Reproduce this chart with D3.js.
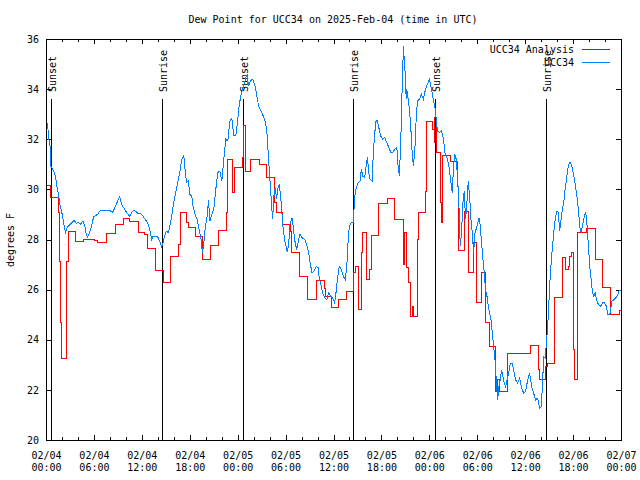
<!DOCTYPE html>
<html><head><meta charset="utf-8">
<script src="https://cdn.jsdelivr.net/npm/d3@7"></script>
<style>
body{margin:0;background:#fff}
svg{display:block}
text{font-family:"DejaVu Sans Mono",monospace;font-size:10px;fill:#000}
</style>
</head><body>
<svg id="chart" width="640" height="480"></svg>
<script>
// ---- data (hours since 2025-02-04 00:00 UTC, dew point in F) ----
const startTime = "2025-02-04T00:00:00Z";
const endTime = "2025-02-07T00:00:00Z";
const titleText = "Dew Point for UCC34 on 2025-Feb-04 (time in UTC)";
const yLabel = "degrees F";
const seriesNames = ["UCC34 Analysis", "UCC34"];
const seriesColors = ["#ff0000", "#0080ff"];
const yTicks = [20, 22, 24, 26, 28, 30, 32, 34, 36];
const eventTimes = ["2025-02-04T00:36:00Z","2025-02-04T14:32:00Z","2025-02-05T00:41:00Z","2025-02-05T14:29:00Z","2025-02-06T00:46:00Z","2025-02-06T14:34:00Z"];
const eventLabels = ["Sunset","Sunrise","Sunset","Sunrise","Sunset","Sunrise"];

const analysis = [[0,30.17],[0.56,29.67],[1.61,29.07],[1.69,27.13],[1.82,24.67],[1.98,23.27],[2.51,24.53],[2.61,27.13],[2.8,28.33],[3.64,27.93],[4.64,28.0],[6.08,27.96],[6.4,27.89],[7.59,28.24],[8.69,28.6],[9.68,28.84],[10.47,28.73],[11.6,28.27],[12.29,28.2],[12.67,27.63],[13.67,26.76],[14.68,26.27],[15.62,27.33],[16.53,27.8],[16.83,29.09],[17.54,28.69],[17.79,28.47],[18.69,28.13],[19.57,27.2],[20.63,27.76],[21.64,28.37],[22.58,29.07],[22.77,31.2],[23.31,29.87],[23.58,30.87],[24.56,31.27],[24.75,32.53],[24.94,30.73],[25.59,31.2],[26.69,31.0],[27.66,30.47],[28.66,29.47],[28.88,29.07],[29.63,28.6],[30.61,28.33],[30.79,27.5],[31.8,26.51],[32.74,25.6],[33.81,26.37],[34.85,26.03],[35.06,25.73],[35.81,25.27],[36.63,25.6],[37.63,25.91],[38.48,26.67],[38.74,26.93],[39.07,25.2],[39.51,27.47],[39.66,28.29],[40.08,26.4],[40.52,26.8],[40.7,28.16],[41.65,29.44],[42.71,29.63],[43.63,28.8],[44.76,27.0],[44.93,28.27],[45.13,26.9],[45.38,26.27],[45.69,24.93],[45.85,25.33],[46.01,24.93],[46.51,28.0],[46.69,29.07],[47.52,29.93],[47.69,32.69],[48.44,32.4],[48.61,31.87],[48.7,32.87],[48.86,31.47],[49.45,29.47],[49.55,28.69],[49.67,31.36],[50.61,31.13],[51.49,30.13],[51.62,28.73],[51.71,27.57],[52.46,29.13],[52.96,26.67],[53.54,27.87],[53.96,25.47],[54.57,26.67],[55.0,24.67],[55.57,23.73],[56.26,21.93],[56.57,22.4],[56.76,21.93],[57.76,23.44],[59.77,23.47],[60.61,23.76],[61.65,22.8],[61.81,22.43],[62.49,22.93],[62.82,23.07],[63.72,25.67],[64.66,27.28],[64.99,26.8],[65.42,26.93],[65.6,27.33],[65.79,27.47],[66.11,23.6],[66.23,22.4],[66.58,28.29],[67.71,28.43],[68.77,27.2],[69.68,26.07],[70.68,24.99],[71.78,25.17],[72.0,25.17]];

const observed = [[0.03,32.47],[0.19,32.64],[0.35,32.0],[0.53,31.68],[0.6,30.93],[0.94,30.73],[1.19,30.53],[1.35,30.13],[1.57,29.8],[1.78,29.33],[1.98,29.08],[2.2,28.68],[2.45,28.28],[2.7,28.51],[3.04,28.6],[3.29,28.69],[3.54,28.77],[3.79,28.64],[4.04,28.69],[4.29,28.6],[4.62,28.73],[4.87,28.53],[5.04,28.2],[5.21,28.1],[5.46,28.29],[5.71,28.53],[5.96,28.91],[6.21,28.96],[6.46,29.0],[6.8,29.17],[7.21,29.17],[7.84,29.17],[8.38,29.09],[8.68,29.33],[8.97,29.53],[9.22,29.71],[9.47,29.4],[9.72,29.27],[9.97,29.13],[10.22,29.04],[10.47,28.93],[10.73,29.07],[10.98,29.17],[11.23,29.13],[11.48,29.04],[11.82,29.04],[12.14,28.93],[12.48,28.77],[12.73,28.67],[12.98,28.4],[13.23,28.0],[13.4,28.13],[13.74,28.1],[13.99,28.1],[14.24,27.93],[14.49,27.71],[14.65,27.84],[14.83,28.13],[15.08,28.33],[15.33,28.27],[15.49,28.53],[15.74,28.93],[15.99,29.47],[16.24,29.87],[16.49,30.27],[16.75,30.67],[17.0,31.2],[17.25,31.36],[17.41,30.8],[17.59,30.27],[17.84,30.33],[18.0,29.8],[18.25,29.73],[18.41,29.33],[18.67,29.0],[18.92,28.8],[19.17,28.4],[19.42,28.0],[19.59,27.47],[19.76,27.87],[19.92,28.4],[20.17,28.93],[20.35,29.57],[20.51,28.73],[20.76,29.0],[21.01,29.2],[21.26,30.0],[21.51,30.67],[21.76,30.73],[22.01,30.33],[22.26,31.2],[22.51,32.0],[22.76,31.93],[23.02,32.73],[23.27,32.85],[23.52,32.13],[23.77,32.13],[24.02,32.8],[24.18,33.33],[24.36,33.67],[24.61,34.0],[24.86,34.27],[25.03,34.47],[25.19,34.56],[25.36,34.13],[25.61,34.33],[25.87,34.4],[26.12,34.2],[26.37,33.8],[26.62,33.33],[26.94,33.13],[27.28,32.87],[27.53,32.6],[27.7,32.13],[27.87,31.2],[28.04,30.4],[28.2,29.6],[28.37,28.8],[28.54,29.73],[28.7,30.07],[28.88,29.6],[29.0,30.0],[29.2,30.2],[29.38,29.73],[29.54,29.07],[29.7,28.4],[29.95,27.87],[30.2,27.53],[30.38,27.73],[30.54,28.6],[30.79,28.87],[30.96,28.53],[31.13,28.0],[31.38,27.6],[31.64,28.0],[31.8,28.2],[32.05,28.07],[32.39,28.0],[32.64,27.8],[32.89,27.47],[33.05,27.13],[33.3,26.67],[33.55,26.73],[33.8,26.91],[34.06,26.89],[34.22,26.47],[34.47,26.13],[34.65,25.87],[34.9,25.67],[35.15,25.6],[35.4,25.87],[35.65,25.73],[35.9,25.67],[36.15,25.47],[36.31,25.87],[36.48,26.4],[36.73,26.93],[36.98,26.8],[37.23,26.53],[37.48,26.4],[37.66,26.93],[37.82,27.87],[37.98,28.53],[38.23,28.67],[38.48,28.67],[38.66,29.73],[38.82,30.0],[39.07,30.27],[39.32,30.33],[39.49,30.8],[39.66,30.53],[39.91,30.47],[40.08,30.93],[40.24,31.27],[40.42,30.67],[40.58,30.4],[40.83,30.33],[40.99,31.47],[41.17,32.27],[41.33,32.73],[41.5,32.73],[41.67,32.47],[41.92,32.13],[42.17,32.0],[42.42,32.07],[42.67,31.87],[42.93,31.67],[43.18,31.47],[43.43,31.47],[43.68,31.6],[43.93,31.67],[44.09,30.93],[44.25,30.53],[44.43,32.0],[44.59,34.0],[44.76,35.73],[44.85,35.2],[44.93,34.8],[45.01,34.53],[45.1,33.6],[45.18,34.0],[45.35,33.6],[45.51,33.2],[45.69,32.4],[45.85,31.47],[46.01,30.93],[46.19,31.6],[46.35,32.8],[46.51,33.53],[46.76,33.6],[47.01,33.8],[47.26,33.6],[47.52,34.0],[47.77,34.2],[48.02,34.4],[48.27,34.0],[48.44,33.67],[48.7,33.27],[48.86,32.8],[49.02,32.33],[49.27,32.27],[49.52,32.33],[49.77,32.0],[49.95,31.47],[50.2,31.27],[50.45,30.93],[50.7,30.27],[50.87,29.87],[51.03,30.93],[51.2,31.4],[51.37,31.2],[51.53,30.53],[51.71,29.33],[51.87,27.73],[52.03,28.27],[52.21,29.47],[52.37,29.93],[52.53,28.8],[52.71,29.47],[52.87,30.33],[53.04,29.73],[53.21,28.8],[53.38,28.27],[53.54,27.47],[53.72,28.27],[53.97,28.53],[54.22,28.87],[54.38,28.53],[54.54,27.87],[54.72,27.2],[54.88,26.67],[55.04,26.0],[55.22,25.73],[55.38,25.33],[55.54,25.07],[55.72,24.8],[55.88,24.27],[56.05,23.73],[56.22,23.2],[56.38,22.4],[56.55,21.6],[56.72,22.13],[56.89,22.4],[57.05,22.8],[57.22,22.53],[57.39,22.27],[57.55,22.13],[57.73,22.4],[57.89,22.6],[58.14,23.07],[58.39,23.07],[58.56,22.8],[58.81,22.4],[59.06,22.27],[59.31,22.47],[59.56,22.07],[59.81,21.87],[60.06,21.93],[60.31,22.4],[60.56,22.67],[60.81,22.13],[61.06,21.87],[61.31,21.6],[61.56,21.67],[61.82,21.27],[61.99,21.33],[62.16,22.13],[62.32,23.33],[62.5,23.27],[62.66,23.87],[62.82,24.53],[62.99,25.6],[63.16,26.67],[63.32,27.33],[63.5,28.0],[63.66,28.53],[63.82,28.93],[64.0,29.13],[64.16,29.07],[64.32,28.33],[64.5,28.8],[64.66,29.2],[64.83,29.47],[65.0,30.0],[65.17,30.4],[65.33,30.8],[65.5,31.04],[65.67,31.07],[65.83,30.93],[66.01,30.67],[66.17,30.4],[66.42,29.87],[66.67,29.2],[66.83,28.53],[67.01,28.27],[67.26,28.67],[67.42,28.93],[67.59,29.09],[67.76,28.53],[67.92,27.73],[68.09,26.93],[68.26,26.4],[68.43,25.87],[68.59,25.73],[68.77,25.87],[68.93,25.6],[69.18,25.4],[69.43,25.33],[69.68,25.47],[69.93,25.47],[70.18,25.33],[70.35,25.0],[70.6,25.0],[70.85,25.53],[71.1,25.6],[71.35,25.67],[71.6,25.8],[71.78,25.97],[72.0,25.97]];

// ---- drawing ----
const svg = d3.select("#chart");
const W = 640, H = 480;
const L = 46, R = 621, T = 39, B = 440;
const t0 = new Date(startTime), t1 = new Date(endTime);
const toDate = h => new Date(t0.getTime() + h * 3600e3);

const x = d3.scaleUtc().domain([t0, t1]).range([L, R]);
const y = d3.scaleLinear().domain([20, 36]).range([B, T]);

svg.append("rect").attr("width", W).attr("height", H).attr("fill", "#fff");

// event lines (sunset / sunrise)
const evG = svg.append("g");
eventTimes.forEach((t, i) => {
  const xe = Math.round(x(new Date(t))) + 0.5;
  evG.append("line").attr("x1", xe).attr("x2", xe).attr("y1", 99).attr("y2", B)
    .attr("stroke", "#000").attr("stroke-width", 1).attr("shape-rendering", "crispEdges");
  evG.append("text").attr("transform", `translate(${xe + 4.5},92) rotate(-90)`)
    .attr("text-anchor", "start").text(eventLabels[i]);
});

// axes
const majorTicks = d3.utcHour.every(6).range(t0, new Date(+t1 + 1));
const allTicks = d3.utcHour.every(2).range(t0, new Date(+t1 + 1));
const minorTicks = allTicks.filter(d => d.getUTCHours() % 6 !== 0);
const fmtDay = d3.utcFormat("%m/%d"), fmtHour = d3.utcFormat("%H:%M");

function clean(g) { g.select(".domain").remove(); g.selectAll("line").attr("shape-rendering", "crispEdges"); }

const xb = svg.append("g").attr("transform", `translate(0,${B})`)
  .call(d3.axisBottom(x).tickValues(majorTicks).tickSizeInner(-5).tickSizeOuter(0).tickFormat(fmtDay))
  .call(clean);
xb.selectAll(".tick text").each(function(d) {
  const t = d3.select(this);
  t.text(null).attr("y", null).attr("dy", null).attr("fill", "#000")
    .style("font-family", '"DejaVu Sans Mono",monospace').style("font-size", "10px");
  t.append("tspan").attr("x", 0).attr("y", 19).text(fmtDay(d));
  t.append("tspan").attr("x", 0).attr("y", 31).text(fmtHour(d));
});
svg.append("g").attr("transform", `translate(0,${B})`)
  .call(d3.axisBottom(x).tickValues(minorTicks).tickSizeInner(-3).tickSizeOuter(0).tickFormat(""))
  .call(clean);
svg.append("g").attr("transform", `translate(0,${T})`)
  .call(d3.axisTop(x).tickValues(majorTicks).tickSizeInner(-5).tickSizeOuter(0).tickFormat(""))
  .call(clean);
svg.append("g").attr("transform", `translate(0,${T})`)
  .call(d3.axisTop(x).tickValues(minorTicks).tickSizeInner(-3).tickSizeOuter(0).tickFormat(""))
  .call(clean);
const yl = svg.append("g").attr("transform", `translate(${L},0)`)
  .call(d3.axisLeft(y).tickValues(yTicks).tickSizeInner(-5).tickSizeOuter(0).tickPadding(7).tickFormat(d3.format("d")))
  .call(clean);
yl.selectAll(".tick text").attr("fill", "#000")
  .style("font-family", '"DejaVu Sans Mono",monospace').style("font-size", "10px");
svg.append("g").attr("transform", `translate(${R},0)`)
  .call(d3.axisRight(y).tickValues(yTicks).tickSizeInner(-5).tickSizeOuter(0).tickFormat(""))
  .call(clean);

// series
svg.append("path").datum(analysis)
  .attr("d", d3.line().x(d => x(toDate(d[0]))).y(d => y(d[1])).curve(d3.curveStepAfter))
  .attr("fill", "none").attr("stroke", seriesColors[0]).attr("stroke-width", 1)
  .attr("shape-rendering", "crispEdges");
svg.append("path").datum(observed)
  .attr("d", d3.line().x(d => x(toDate(d[0]))).y(d => y(d[1])))
  .attr("fill", "none").attr("stroke", seriesColors[1]).attr("stroke-width", 1)
  .attr("shape-rendering", "crispEdges");

// frame
svg.append("rect").attr("x", L + 0.5).attr("y", T + 0.5).attr("width", R - L).attr("height", B - T)
  .attr("fill", "none").attr("stroke", "#000").attr("shape-rendering", "crispEdges");

// title & y label
svg.append("text").attr("x", 333).attr("y", 23).attr("text-anchor", "middle").text(titleText);
svg.append("text").attr("transform", "translate(14,240) rotate(-90)").attr("text-anchor", "middle").text(yLabel);

// legend
seriesNames.forEach((name, i) => {
  const ly = 49.5 + i * 13;
  svg.append("text").attr("x", 574).attr("y", ly + 3.5).attr("text-anchor", "end").text(name);
  svg.append("line").attr("x1", 582).attr("x2", 610).attr("y1", ly).attr("y2", ly)
    .attr("stroke", seriesColors[i]).attr("stroke-width", 1).attr("shape-rendering", "crispEdges");
});
</script>
</body></html>
